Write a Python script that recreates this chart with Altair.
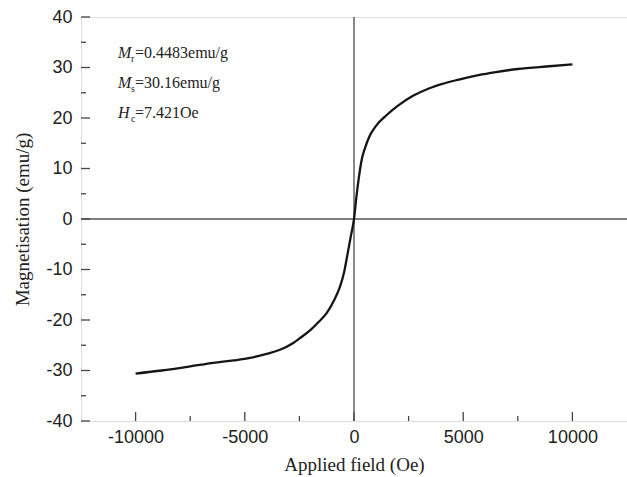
import altair as alt
import pandas as pd

# Hysteresis curve
field_neg = [-10000, -8800, -7500, -6440, -5500, -4760, -4000, -3390, -2800, -2480,
             -2000, -1600, -1245, -900, -650, -450, -290, -150, 0]
mag_neg = [-30.6, -30.0, -29.2, -28.5, -28.0, -27.5, -26.7, -25.9, -24.6, -23.6,
           -22.0, -20.3, -18.6, -16.0, -13.5, -10.5, -6.8, -3.5, 0.0]
field_pos = [100, 200, 350, 500, 700, 1000, 1500, 2000, 2700, 3400,
             4000, 4800, 5700, 6500, 7500, 8800, 10000]
mag_pos = [4.0, 7.5, 11.7, 14.0, 16.3, 18.4, 20.6, 22.4, 24.4, 25.8,
           26.7, 27.6, 28.5, 29.1, 29.7, 30.2, 30.6]

x_major = [-10000, -5000, 0, 5000, 10000]
x_minor = [-7500, -2500, 2500, 7500]
y_major = [-40, -30, -20, -10, 0, 10, 20, 30, 40]
y_minor = [-35, -25, -15, -5, 5, 15, 25, 35]

W, H = 546, 404
XDOM = [-12500, 12500]
YDOM = [-40, 40]

curve = pd.DataFrame({"H": field_neg + field_pos, "M": mag_neg + mag_pos})
curve["order"] = range(len(curve))

xs = alt.Scale(domain=XDOM, nice=False, zero=False)
ys = alt.Scale(domain=YDOM, nice=False, zero=False)

serif = "Liberation Serif"
sans = "Liberation Sans"
axis_col = "#444444"

base_x = alt.X("H:Q", scale=xs,
               axis=alt.Axis(values=x_major, title="Applied field (Oe)", grid=False,
                             domain=False, ticks=False, tickSize=0, labelPadding=7,
                             labelExpr="toString(datum.value)",
                             labelFont=sans, labelFontSize=18, labelColor="#222",
                             titleFont=serif, titleFontSize=19, titleFontWeight="normal",
                             titleColor="#222", titleY=49, titleBaseline="alphabetic"))
base_y = alt.Y("M:Q", scale=ys,
               axis=alt.Axis(values=y_major, title="Magnetisation (emu/g)", grid=False,
                             domain=False, ticks=False, tickSize=0, labelPadding=9,
                             labelExpr="toString(datum.value)",
                             labelFont=sans, labelFontSize=18, labelColor="#222",
                             titleFont=serif, titleFontSize=19, titleFontWeight="normal",
                             titleColor="#222", titleX=-59, titleY=H / 2,
                             titleBaseline="middle"))

line = alt.Chart(curve).mark_line(color="#151515", strokeWidth=2.3,
                                  interpolate="monotone").encode(
    x=base_x, y=base_y, order="order:Q")

vline = alt.Chart(pd.DataFrame({"v": [0]})).mark_rule(color="#555555", strokeWidth=1.4).encode(
    x=alt.X("v:Q", scale=xs), y=alt.value(0), y2=alt.value(H))
hline = alt.Chart(pd.DataFrame({"v": [0]})).mark_rule(color="#555555", strokeWidth=1.4).encode(
    y=alt.Y("v:Q", scale=ys), x=alt.value(0), x2=alt.value(W))

def xticks(vals, ln):
    return alt.Chart(pd.DataFrame({"v": vals})).mark_rule(color=axis_col, strokeWidth=1.3).encode(
        x=alt.X("v:Q", scale=xs), y=alt.value(H), y2=alt.value(H - ln))

def yticks(vals, ln):
    return alt.Chart(pd.DataFrame({"v": vals})).mark_rule(color=axis_col, strokeWidth=1.3).encode(
        y=alt.Y("v:Q", scale=ys), x=alt.value(0), x2=alt.value(ln))

ann_sym = ["M", "M", "H"]
ann_sub = ["r", "s", "c"]
ann_rest = ["=0.4483emu/g", "=30.16emu/g", "=7.421Oe"]
ann_y = [41, 71, 101]  # baselines relative to plot top

texts = []
for sym, sub, rest, yy in zip(ann_sym, ann_sub, ann_rest, ann_y):
    texts.append(alt.Chart(pd.DataFrame({"t": [sym]})).mark_text(
        font=serif, fontSize=16, fontStyle="italic",
        align="left", baseline="alphabetic", color="#222").encode(
        text="t:N", x=alt.value(37), y=alt.value(yy)))
    texts.append(alt.Chart(pd.DataFrame({"t": [sub]})).mark_text(
        font=serif, fontSize=10, align="left", baseline="alphabetic", color="#222").encode(
        text="t:N", x=alt.value(50), y=alt.value(yy + 4)))
    texts.append(alt.Chart(pd.DataFrame({"t": [rest]})).mark_text(
        font=serif, fontSize=16, align="left", baseline="alphabetic", color="#222").encode(
        text="t:N", x=alt.value(54), y=alt.value(yy)))

chart = alt.layer(
    vline, hline, line,
    xticks(x_major, 9), xticks(x_minor, 5), yticks(y_major, 9), yticks(y_minor, 5),
    *texts
).properties(
    width=W, height=H,
    autosize=alt.AutoSizeParams(type="none"),
    padding={"left": 81, "top": 17, "right": 0, "bottom": 56},
).configure_view(stroke=axis_col, strokeWidth=1.6).configure(background="white")

chart.save("out.html", embed_options={"renderer": "svg", "actions": False})
